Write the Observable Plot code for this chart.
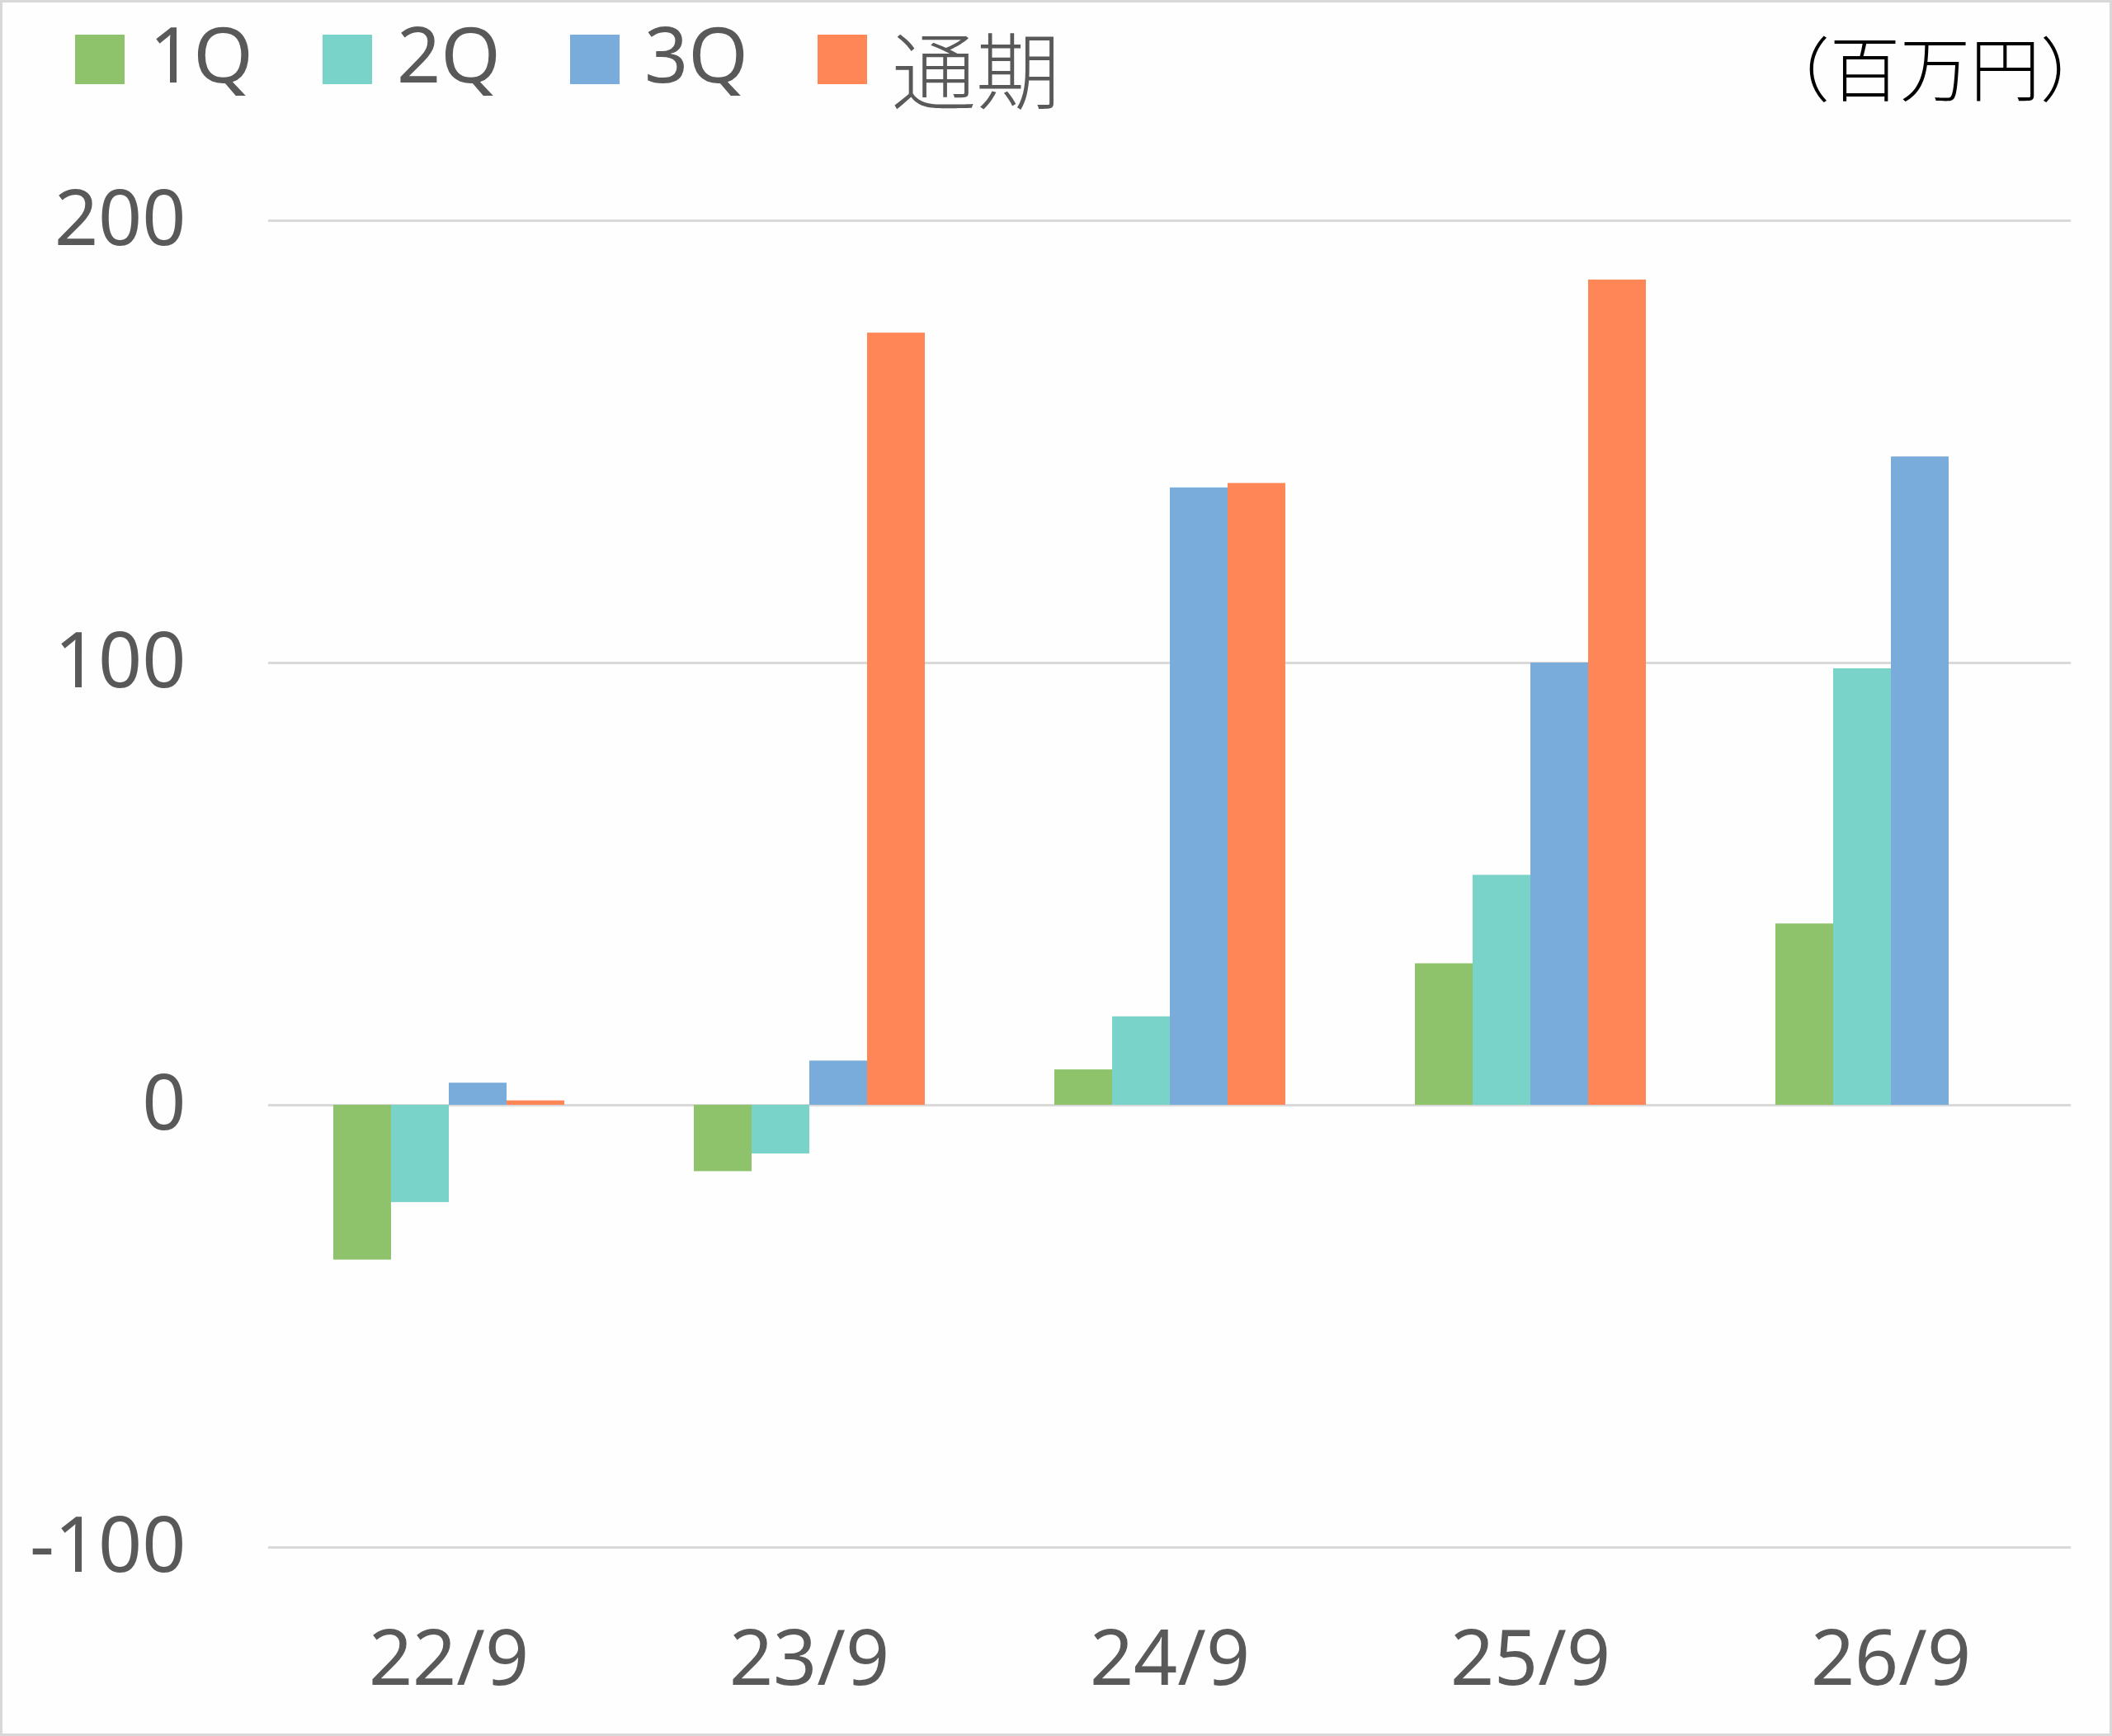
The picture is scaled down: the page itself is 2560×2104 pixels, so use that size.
<!DOCTYPE html>
<html>
<head>
<meta charset="utf-8">
<script src="https://cdn.jsdelivr.net/npm/d3@7"></script>
<script src="https://cdn.jsdelivr.net/npm/@observablehq/plot@0.6"></script>
<style>
  html, body { margin: 0; padding: 0; background: #ffffff; }
  #chart { position: relative; width: 2560px; height: 2104px; background: #fefefe; overflow: hidden;
           font-family: 'Noto Sans', 'Noto Sans CJK JP', sans-serif; }
  #chart svg { position: absolute; left: 0; top: 0; }
  #frame { position: absolute; left: 0; top: 0; width: 2560px; height: 2104px; box-sizing: border-box;
           border: 3px solid #d9d9d9; pointer-events: none; }
  .lg-item { position: absolute; top: 0; height: 160px; }
  .lg-swatch { position: absolute; left: 0; top: 42px; width: 60px; height: 60px; }
  .lg-text { position: absolute; left: 90px; top: 18px; font-size: 93px; line-height: 1; color: #595959; white-space: nowrap; }
  .lg-text.cjk { font-family: 'Noto Sans CJK JP', sans-serif; font-size: 102px; top: 30px; font-weight: 300; }
  #unit { position: absolute; right: 2px; top: 36px; font-family: 'Noto Sans CJK JP', sans-serif; font-size: 85px;
          font-weight: 300; line-height: 1; color: #000000; white-space: nowrap; }
</style>
</head>
<body>
<div id="chart"></div>
<script>
// ---- data ----
const categories = ["22/9", "23/9", "24/9", "25/9", "26/9"];
const seriesNames = ["1Q", "2Q", "3Q", "通期"];
const q1Values = [-35, -15, 8, 32, 41];
const q2Values = [-22, -11, 20, 52, 98.7];
const q3Values = [5, 10, 139.6, 100, 146.6];
const fullYearValues = [1, 174.6, 140.6, 186.6, null];
const seriesColors = ["#8fc36b", "#7ad3c9", "#7aacdb", "#ff8757"];
const yTicks = [-100, 0, 100, 200];
const unitLabel = "（百万円）";

const seriesValues = [q1Values, q2Values, q3Values, fullYearValues];
const table = [];
categories.forEach((cat, i) => {
  seriesNames.forEach((s, j) => {
    const v = seriesValues[j][i];
    if (v !== null && v !== undefined) table.push({cat, series: s, value: v});
  });
});

const chart = document.getElementById("chart");

const plot = Plot.plot({
  width: 2560,
  height: 2104,
  marginLeft: 325,
  marginRight: 50,
  marginTop: 267,
  marginBottom: 229,
  style: {background: "transparent", fontFamily: "'Noto Sans', 'Noto Sans CJK JP', sans-serif", fontSize: "93px", color: "#595959"},
  fx: {domain: categories, padding: 0, label: null, tickSize: 0, tickPadding: 100, axis: "bottom"},
  x: {domain: seriesNames, axis: null, paddingInner: 0, paddingOuter: 1.12},
  y: {domain: [-100, 200], ticks: yTicks, tickSize: 0, tickPadding: 100, label: null, tickFormat: d => String(d)},
  color: {domain: seriesNames, range: seriesColors},
  marks: [
    Plot.ruleY(yTicks, {stroke: "#d9d9d9", strokeWidth: 3}),
    Plot.barY(table, {fx: "cat", x: "series", y: "value", fill: "series"})
  ]
});
chart.appendChild(plot);

// legend
seriesNames.forEach((s, i) => {
  const item = document.createElement("div");
  item.className = "lg-item";
  item.style.left = (91 + i * 300) + "px";
  const sw = document.createElement("div");
  sw.className = "lg-swatch";
  sw.style.background = seriesColors[i];
  const tx = document.createElement("div");
  tx.className = "lg-text" + (/[^\x00-\x7f]/.test(s) ? " cjk" : "");
  tx.textContent = s;
  item.appendChild(sw);
  item.appendChild(tx);
  chart.appendChild(item);
});

const unit = document.createElement("div");
unit.id = "unit";
unit.textContent = unitLabel;
chart.appendChild(unit);

const frame = document.createElement("div");
frame.id = "frame";
chart.appendChild(frame);
</script>
</body>
</html>
